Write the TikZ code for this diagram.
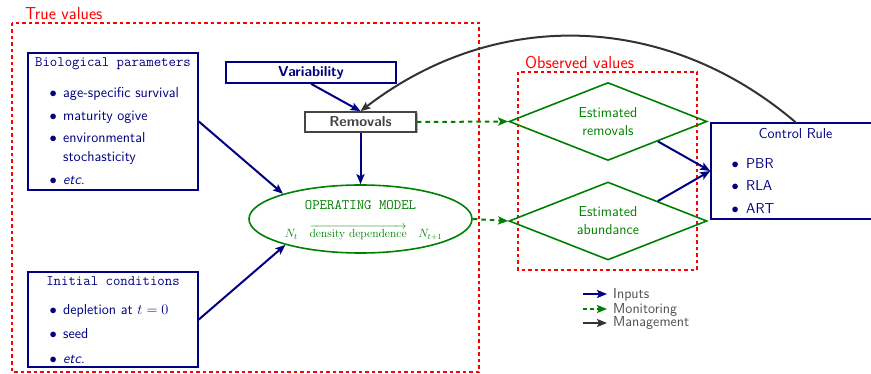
\documentclass[tikz,border=0pt]{standalone}
\usepackage{amsmath}
\usetikzlibrary{arrows.meta,shapes.geometric,shadows}
\definecolor{navy}{RGB}{0,0,128}
\definecolor{mygreen}{RGB}{0,128,0}
\definecolor{remgray}{RGB}{68,68,68}
\definecolor{arcgray}{RGB}{51,51,51}
\definecolor{leggray}{RGB}{80,80,80}
\newcommand{\basefont}{\fontsize{14.4}{18}\selectfont\sffamily}
\newcommand{\ttlfont}{\fontsize{14.4}{18}\selectfont\ttfamily}
\newcommand{\bul}[1]{\llap{$\bullet$\hspace{#1}}}
\begin{document}
\begin{tikzpicture}[x=1pt,y=-1pt,
  box/.style={draw=navy, line width=1.6pt, inner sep=0pt, rectangle},
  ttl/.style={font=\ttlfont, text=navy, inner sep=0pt, anchor=base},
  item/.style={font=\basefont, text=navy, inner sep=0pt, anchor=base west},
  inarrow/.style={draw=navy, line width=2pt, -{Stealth[length=10pt,width=8pt,inset=2pt]}},
  monarrow/.style={draw=mygreen, line width=2pt, dash pattern=on 4.5pt off 4pt, -{Stealth[length=10pt,width=8pt,inset=2pt]}},
  mgarrow/.style={draw=arcgray, line width=2pt, -{Stealth[length=10pt,width=8pt,inset=2pt]}},
  region/.style={draw=red, line width=2.2pt, dash pattern=on 3.5pt off 3pt},
  regiontitle/.style={font=\fontsize{17.3}{20}\selectfont\sffamily, text=red, inner sep=0pt, anchor=base west},
  diam/.style={diamond, aspect=2.54, draw=mygreen, line width=1.6pt, minimum width=198pt, minimum height=78pt, inner sep=0pt, align=center, font=\basefont, text=mygreen},
  legtext/.style={font=\basefont, text=leggray, inner sep=0pt, anchor=base west}]

\useasboundingbox (0,0) rectangle (871,374);
\clip (0,0) rectangle (871,374);

% regions
\draw[region] (12,23) rectangle (479,372);
\node[regiontitle] (tvt) at (25,19.5) {True values};
\draw[region] (518,72) rectangle (697,270);
\node[regiontitle] (ovt) at (525,68.3) {Observed values};

% Biological parameters
\node[box, minimum width=170pt, minimum height=137pt] (bio) at (113,121.5) {};
\node[ttl] (biot) at (113,66.7) {Biological parameters};
\node[item] (b1) at (63,97.3) {\bul{6.5pt}age-specific survival};
\node[item] (b2) at (63,120.7) {\bul{6.5pt}maturity ogive};
\node[item] (b3) at (63,143) {\bul{6.5pt}environmental};
\node[item] (b4) at (63,161.7) {stochasticity};
\node[item] (b5) at (63,185) {\bul{6.5pt}\itshape etc.};

% Initial conditions
\node[box, minimum width=170pt, minimum height=95pt] (ini) at (113,319.5) {};
\node[ttl] (init) at (113,285.7) {Initial conditions};
\node[item] (i1) at (63,315) {\bul{6.5pt}depletion at $t=0$};
\node[item] (i2) at (63,339) {\bul{6.5pt}seed};
\node[item] (i3) at (63,363.3) {\bul{6.5pt}\itshape etc.};

% Variability and Removals
\node[box, minimum width=170pt, minimum height=21pt, font=\basefont\bfseries, text=navy] (var) at (311,72.5) {Variability};
\node[rectangle, draw=remgray, line width=1.6pt, fill=white, minimum width=111pt, minimum height=20pt, inner sep=0pt,
      font=\basefont\bfseries, text=remgray,
      drop shadow={shadow xshift=1.5pt, shadow yshift=-1.5pt, fill=black!45, opacity=0.7}] (rem) at (360.5,122) {Removals};

% Operating model
\node[ellipse, draw=mygreen, line width=1.6pt, minimum width=223pt, minimum height=68pt, inner sep=0pt] (om) at (360.5,219) {};
\node[font=\ttlfont, text=mygreen, inner sep=0pt, anchor=base] (omt) at (360.5,210) {OPERATING MODEL};
\node[font=\fontsize{11.7}{14}\selectfont\rmfamily, text=mygreen, inner sep=0pt, anchor=base] (omf) at (363.5,237.3)
  {$N_t\quad\overrightarrow{\text{density dependence}}\quad N_{t+1}$};

% Observed diamonds
\node[diam] (d1) at (608,121.5) {Estimated\\removals};
\node[diam] (d2) at (608,221) {Estimated\\abundance};

% Control rule
\node[box, minimum width=169pt, minimum height=96pt] (cr) at (795.5,171) {};
\node[font=\basefont, text=navy, inner sep=0pt, anchor=base] (crt) at (795.5,138.3) {Control Rule};
\node[item] (c1) at (746,168.3) {\bul{7.4pt}PBR};
\node[item] (c2) at (746,191) {\bul{7.4pt}RLA};
\node[item] (c3) at (746,214) {\bul{7.4pt}ART};

% connectors
\draw[inarrow] (bio.east) -- (om.162);
\draw[inarrow] (ini.east) -- (om.199);
\draw[inarrow] (var.south) -- (rem.north);
\draw[inarrow] (rem.south) -- (om.north);
\draw[monarrow] (rem.east) -- (d1.west);
\draw[monarrow] (om.east) -- (d2.west);
\draw[inarrow] (d1.south east) -- (cr.west);
\draw[inarrow] (d2.north east) -- (cr.west);
\draw[mgarrow] (cr.north) to[bend right=39] (rem.north);

% legend
\coordinate (l1a) at (583,294); \coordinate (l1b) at (607,294);
\coordinate (l2a) at (583,309); \coordinate (l2b) at (607,309);
\coordinate (l3a) at (583,323); \coordinate (l3b) at (607,323);
\draw[inarrow] (l1a) -- (l1b);
\draw[monarrow, dash pattern=on 4pt off 3pt] (l2a) -- (l2b);
\draw[mgarrow] (l3a) -- (l3b);
\node[legtext] (lt1) at (613,298.3) {Inputs};
\node[legtext] (lt2) at (613,313.3) {Monitoring};
\node[legtext] (lt3) at (613,326.7) {Management};
\end{tikzpicture}
\end{document}
